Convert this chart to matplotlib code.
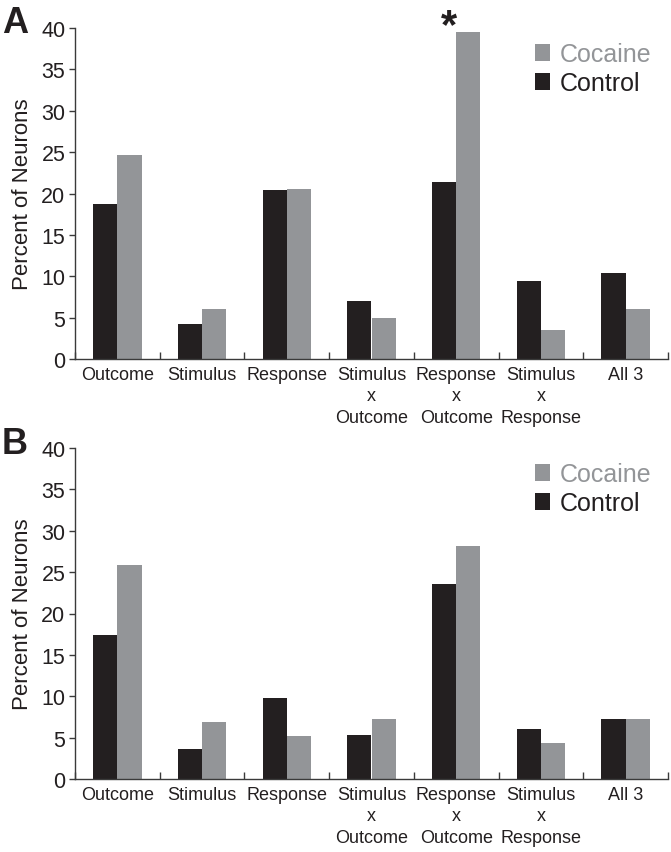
import numpy as np
import matplotlib
matplotlib.use("Agg")
import matplotlib.pyplot as plt
from matplotlib.patches import Patch

plt.rcParams['font.family'] = ['Liberation Sans', 'DejaVu Sans']

categories = ["Outcome", "Stimulus", "Response", "Stimulus\nx\nOutcome",
              "Response\nx\nOutcome", "Stimulus\nx\nResponse", "All 3"]
control_A = [18.7, 4.2, 20.4, 7.05, 21.4, 9.4, 10.4]
cocaine_A = [24.6, 6.0, 20.6, 5.0, 39.5, 3.5, 6.0]
control_B = [17.4, 3.6, 9.75, 5.3, 23.6, 6.0, 7.2]
cocaine_B = [25.9, 6.85, 5.2, 7.2, 28.2, 4.3, 7.2]
yticks = [0, 5, 10, 15, 20, 25, 30, 35, 40]
panel_labels = ["A", "B"]
series_names = ["Cocaine", "Control"]

C_CTRL = "#231f20"
C_COC = "#939598"
SPINE = "#3a3a3a"

W, H = 671, 853
fig = plt.figure(figsize=(W / 100, H / 100), dpi=100)

def axes_rect(left, right, top, bottom):
    return [left / W, 1 - bottom / H, (right - left) / W, (bottom - top) / H]

rects = [axes_rect(75, 668, 29, 360), axes_rect(75, 668, 449, 780)]
data = [(control_A, cocaine_A), (control_B, cocaine_B)]
letter_y = [33, 454]

bw = 0.285
x = np.arange(len(categories))
for i, (rect, (ctrl, coc)) in enumerate(zip(rects, data)):
    ax = fig.add_axes(rect)
    ax.bar(x - bw / 2, ctrl, width=bw, color=C_CTRL, linewidth=0)
    ax.bar(x + bw / 2, coc, width=bw, color=C_COC, linewidth=0)
    ax.set_xlim(-0.5, len(categories) - 0.5)
    ax.set_ylim(0, 40)
    ax.spines['top'].set_visible(False)
    ax.spines['right'].set_visible(False)
    for s in ['left', 'bottom']:
        ax.spines[s].set_color(SPINE)
        ax.spines[s].set_linewidth(1.0)
    ax.set_yticks(yticks)
    ax.set_yticklabels([str(t) for t in yticks], fontsize=15.5, color=C_CTRL)
    ax.tick_params(axis='y', direction='out', length=4, width=1, color=SPINE, pad=3)
    ax.set_xticks(x)
    ax.set_xticklabels(categories, fontsize=13, color=C_CTRL, linespacing=1.35)
    ax.tick_params(axis='x', which='major', length=0, pad=5)
    ax.set_xticks(np.arange(-0.5, len(categories)), minor=True)
    ax.tick_params(axis='x', which='minor', direction='in', length=5, width=1, color=SPINE)
    ax.set_ylabel("Percent of Neurons", fontsize=16, color=C_CTRL, labelpad=6)
    handles = [Patch(facecolor=C_COC, edgecolor='none'), Patch(facecolor=C_CTRL, edgecolor='none')]
    ax.legend(handles, series_names, loc='upper left', bbox_to_anchor=(0.755, 0.995),
              frameon=False, fontsize=18, handlelength=0.6, handleheight=0.65,
              handletextpad=0.4, labelspacing=0.2, borderpad=0,
              labelcolor=[C_COC, C_CTRL])
    fig.text(2 / W, 1 - letter_y[i] / H, panel_labels[i], fontsize=26, fontweight='bold',
             color=C_CTRL, ha='left', va='baseline')
    if i == 0:
        ax.text(4 - 0.09, 40.2, "*", fontsize=30, fontweight='bold', color=C_CTRL,
                ha='center', va='center', clip_on=False)

fig.savefig("out.png", dpi=100, facecolor='white')
